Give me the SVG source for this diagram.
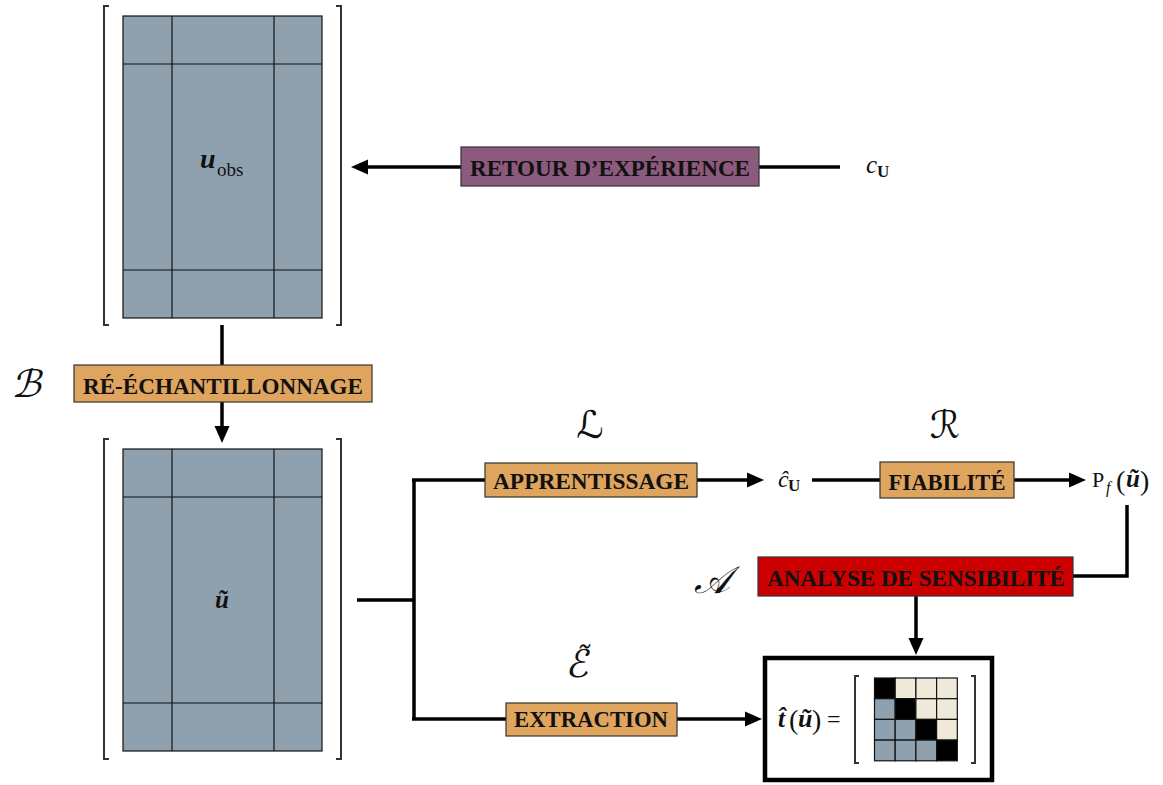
<svg xmlns="http://www.w3.org/2000/svg" width="1163" height="785" viewBox="0 0 1163 785">
<style>
.box{stroke:#333;stroke-width:1.2}
.orange{fill:#DFA55F}
.purple{fill:#8B5A7D}
.red{fill:#CC0000}
.lbl{font-family:"Liberation Serif",serif;font-weight:bold;font-size:24px;fill:#111;text-anchor:middle}
.cell{fill:#8FA1AF;stroke:#111;stroke-width:1.2}
.grid{stroke:#111;stroke-width:1.2}
.brk{fill:none;stroke:#333;stroke-width:2}
.con{fill:none;stroke:#000;stroke-width:3.5}
.math{font-family:"Liberation Serif","DejaVu Serif",serif;fill:#111}
.scr{font-family:"DejaVu Serif","DejaVu Sans",serif;font-style:italic;font-size:38px;fill:#111;text-anchor:middle}
</style>
<defs>
<marker id="ah" markerUnits="userSpaceOnUse" markerWidth="17" markerHeight="17" refX="2" refY="8.5" orient="auto">
<path d="M0,1 L17,8.5 L0,16 z" fill="#000"/>
</marker>
</defs>
<rect width="1163" height="785" fill="#fff"/>

<g id="uobs">
<rect x="123" y="16" width="199" height="302" class="cell"/>
<line x1="172" y1="16" x2="172" y2="318" class="grid"/>
<line x1="274" y1="16" x2="274" y2="318" class="grid"/>
<line x1="123" y1="64" x2="322" y2="64" class="grid"/>
<line x1="123" y1="270" x2="322" y2="270" class="grid"/>
<path d="M109,6 H104 V325 H109" class="brk"/>
<path d="M336,6 H341 V325 H336" class="brk"/>
<text x="200" y="168" class="math" font-size="28" font-weight="bold" font-style="italic">u</text>
<text x="217" y="176" class="math" font-size="19">obs</text>
</g>

<g id="utilde">
<rect x="123" y="449" width="199" height="302" class="cell"/>
<line x1="172" y1="449" x2="172" y2="751" class="grid"/>
<line x1="274" y1="449" x2="274" y2="751" class="grid"/>
<line x1="123" y1="497" x2="322" y2="497" class="grid"/>
<line x1="123" y1="703" x2="322" y2="703" class="grid"/>
<path d="M109,439 H104 V759 H109" class="brk"/>
<path d="M336,439 H341 V759 H336" class="brk"/>
<text x="222" y="608" class="math" font-size="25" font-weight="bold" font-style="italic" text-anchor="middle">ũ</text>
</g>

<g id="connectors">
<line x1="840" y1="167" x2="366" y2="167" class="con" marker-end="url(#ah)"/>
<line x1="222" y1="325" x2="222" y2="365" class="con"/>
<line x1="222" y1="402" x2="222" y2="428" class="con" marker-end="url(#ah)"/>
<path d="M357,600 H414 M414,480 V719" class="con"/>
<line x1="412" y1="480" x2="485" y2="480" class="con"/>
<line x1="697" y1="480" x2="749" y2="480" class="con" marker-end="url(#ah)"/>
<line x1="812" y1="480" x2="880" y2="480" class="con"/>
<line x1="1014" y1="480" x2="1071" y2="480" class="con" marker-end="url(#ah)"/>
<path d="M1127,505 V576 H1073" class="con"/>
<line x1="916" y1="596" x2="916" y2="640" class="con" marker-end="url(#ah)"/>
<line x1="412" y1="719" x2="506" y2="719" class="con"/>
<line x1="677" y1="719" x2="747" y2="719" class="con" marker-end="url(#ah)"/>
</g>

<g id="retour">
<rect x="461" y="147" width="298" height="39" class="box purple"/>
<text x="610" y="176" class="lbl" textLength="280" lengthAdjust="spacingAndGlyphs">RETOUR D’EXPÉRIENCE</text>
</g>

<g id="cu">
<text x="866" y="173" class="math" font-size="25" font-style="italic">c</text>
<text x="877" y="177" class="math" font-size="17" font-weight="bold">U</text>
</g>

<g id="reechant">
<rect x="74" y="365" width="298" height="37" class="box orange"/>
<text x="223" y="394" class="lbl" textLength="280" lengthAdjust="spacingAndGlyphs">RÉ-ÉCHANTILLONNAGE</text>
<text x="0" y="0" class="scr" transform="translate(26,397) skewX(-14)">ℬ</text>
</g>

<g id="apprentissage">
<rect x="485" y="463" width="212" height="34" class="box orange"/>
<text x="591" y="489" class="lbl" textLength="196" lengthAdjust="spacingAndGlyphs">APPRENTISSAGE</text>
<text x="590" y="438" class="scr">ℒ</text>
</g>

<g id="chat">
<text x="778" y="487" class="math" font-size="24" font-style="italic">ĉ</text>
<text x="788" y="491" class="math" font-size="17" font-weight="bold">U</text>
</g>

<g id="fiabilite">
<rect x="880" y="462" width="134" height="36" class="box orange"/>
<text x="947" y="490" class="lbl" textLength="117" lengthAdjust="spacingAndGlyphs">FIABILITÉ</text>
<text x="945" y="438" class="scr">ℛ</text>
</g>

<g id="pf">
<text x="1092" y="487" class="math" font-size="22">P</text>
<text x="1106" y="493" class="math" font-size="16" font-style="italic">f</text>
<text x="1116" y="490" class="math" font-size="28">(</text>
<text x="1126" y="487" class="math" font-size="25" font-weight="bold" font-style="italic">ũ</text>
<text x="1140" y="490" class="math" font-size="28">)</text>
</g>

<g id="analyse">
<rect x="758" y="557" width="315" height="39" class="box red"/>
<text x="916" y="586" class="lbl" textLength="298" lengthAdjust="spacingAndGlyphs">ANALYSE DE SENSIBILITÉ</text>
<text x="712" y="593" class="scr">𝒜</text>
</g>

<g id="extraction">
<rect x="506" y="703" width="171" height="33" class="box orange"/>
<text x="591" y="727" class="lbl" textLength="154" lengthAdjust="spacingAndGlyphs">EXTRACTION</text>
<text x="0" y="0" class="scr" text-anchor="start" transform="translate(577,677) skewX(-10)">ℰ<tspan dx="-17" dy="-8" font-size="32" font-style="normal">˜</tspan></text>
</g>

<g id="result">
<rect x="765" y="658" width="227" height="122" fill="#fff" stroke="#000" stroke-width="4.5"/>
<text x="778" y="727" class="math" font-size="25" font-weight="bold" font-style="italic">t̂</text>
<text x="789" y="729" class="math" font-size="28">(</text>
<text x="798" y="727" class="math" font-size="26" font-weight="bold" font-style="italic">ũ</text>
<text x="812" y="729" class="math" font-size="28">)</text>
<text x="827" y="727" class="math" font-size="24">=</text>
<path d="M859,676 H855 V763 H859" class="brk"/>
<path d="M971,676 H975 V763 H971" class="brk"/>
<g stroke="#111" stroke-width="1.2">
<rect x="874.5" y="678" width="20.7" height="20.7" fill="#000"/>
<rect x="895.2" y="678" width="20.7" height="20.7" fill="#EEE9D8"/>
<rect x="915.9" y="678" width="20.7" height="20.7" fill="#EEE9D8"/>
<rect x="936.6" y="678" width="20.7" height="20.7" fill="#EEE9D8"/>
<rect x="874.5" y="698.7" width="20.7" height="20.7" fill="#8FA1AF"/>
<rect x="895.2" y="698.7" width="20.7" height="20.7" fill="#000"/>
<rect x="915.9" y="698.7" width="20.7" height="20.7" fill="#EEE9D8"/>
<rect x="936.6" y="698.7" width="20.7" height="20.7" fill="#EEE9D8"/>
<rect x="874.5" y="719.4" width="20.7" height="20.7" fill="#8FA1AF"/>
<rect x="895.2" y="719.4" width="20.7" height="20.7" fill="#8FA1AF"/>
<rect x="915.9" y="719.4" width="20.7" height="20.7" fill="#000"/>
<rect x="936.6" y="719.4" width="20.7" height="20.7" fill="#EEE9D8"/>
<rect x="874.5" y="740.1" width="20.7" height="20.7" fill="#8FA1AF"/>
<rect x="895.2" y="740.1" width="20.7" height="20.7" fill="#8FA1AF"/>
<rect x="915.9" y="740.1" width="20.7" height="20.7" fill="#8FA1AF"/>
<rect x="936.6" y="740.1" width="20.7" height="20.7" fill="#000"/>
</g>
</g>
</svg>
